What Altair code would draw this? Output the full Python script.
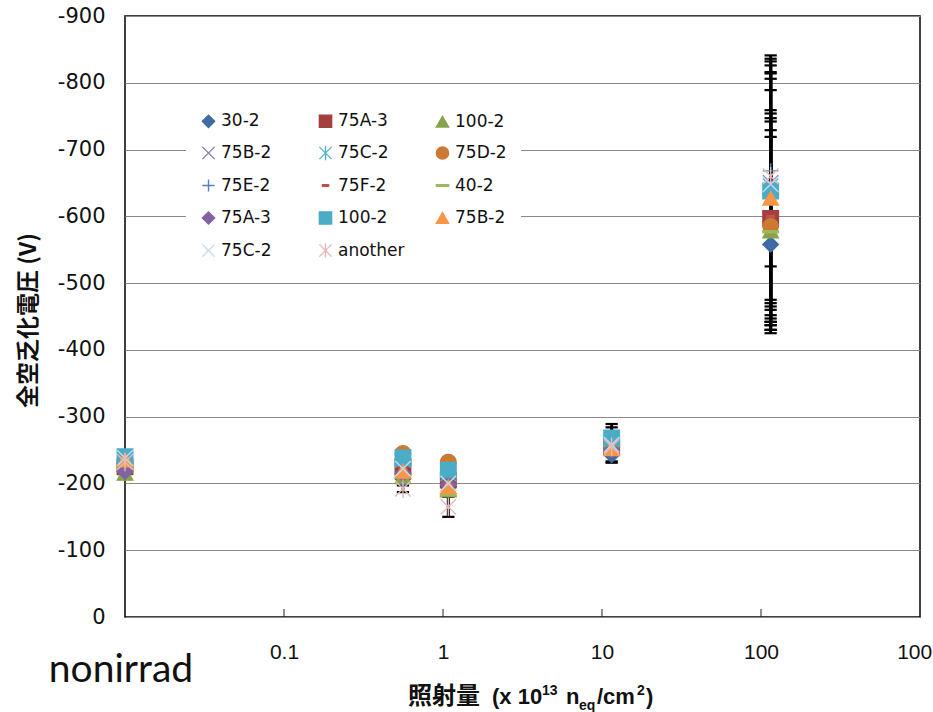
import altair as alt
import pandas as pd

# ---------------- data ----------------
series_keys = [f"s{i:02d}" for i in range(1, 15)]
series_names = ["30-2", "75A-3", "100-2", "75B-2", "75C-2", "75D-2", "75E-2",
                "75F-2", "40-2", "75A-3", "100-2", "75B-2", "75C-2", "another"]

dose_x = [0.01, 0.56, 1.08, 11.5, 115]

v_nonirrad = [-225, -225, -215, -230, -235, -230, -235, -228, -222, -218, -240, -235, -238, -232]
v_dose056 = [-207, -225, -210, -240, -235, -245, -230, -222, -212, -215, -238, -218, -222, -192]
v_dose108 = [-195, -205, -190, -200, -215, -232, -210, -200, -183, -198, -220, -195, -200, -165]
v_dose115 = [-243, -255, -265, -258, -262, -260, -262, -255, -258, -250, -268, -252, -258, -255]
v_dose1150 = [-558, -597, -578, -650, -645, -585, -668, -600, -577, -633, -638, -627, -648, -660]

err_x = [115] * 14 + [11.5, 11.5, 1.08, 0.56]
err_lo = [-525, -475, -470, -465, -460, -452, -447, -442, -437, -430, -425, -430, -437, -442,
          -231, -233, -150, -187]
err_hi = [-729, -742, -747, -836, -832, -754, -841, -759, -719, -789, -826, -816, -814, -806,
          -289, -284, -180, -197]

y_ticks = [0, -100, -200, -300, -400, -500, -600, -700, -800, -900]
x_ticks = [0.1, 1, 10, 100, 1000]
inner_ticks = [0.1, 1, 10, 100]

# ---------------- styles ----------------
X_PATH = "M-1,-1L1,1M-1,1L1,-1"
AST_PATH = "M-1,-1L1,1M-1,1L1,-1M0,-1.2L0,1.2"
PLUS_PATH = "M-1,0L1,0M0,-1L0,1"
SDASH = "M-0.5,-0.13L0.5,-0.13L0.5,0.13L-0.5,0.13Z"
LDASH = "M-1,-0.13L1,-0.13L1,0.13L-1,0.13Z"

shapes = ["diamond", "square", "triangle-up", X_PATH, AST_PATH, "circle", PLUS_PATH,
          SDASH, LDASH, "diamond", "square", "triangle-up", X_PATH, AST_PATH]
colors = ["#3F6BA3", "#A33F3C", "#86A44A", "#8A78B0", "#58B4C9", "#CC7A33", "#4F81BD",
          "#C0504D", "#9BBB59", "#8064A2", "#4BACC6", "#F79646", "#C6D9F1", "#E6B9B8"]
filled = [True, True, True, False, False, True, False, True, True, True, True, True, False, False]
fills = [c if f else "transparent" for c, f in zip(colors, filled)]

# legend is filled column by column: reorder so that it reads row by row (3 columns)
ncol, nrow = 3, 5
legend_order = [r * ncol + c for c in range(ncol) for r in range(nrow) if r * ncol + c < len(series_keys)]
dom = [series_keys[i] for i in legend_order]
dom_shapes = [shapes[i] for i in legend_order]
dom_colors = [colors[i] for i in legend_order]
dom_fills = [fills[i] for i in legend_order]

# ---------------- tables ----------------
rows = []
for xv, vals in zip(dose_x, [v_nonirrad, v_dose056, v_dose108, v_dose115, v_dose1150]):
    for k, v in zip(series_keys, vals):
        rows.append({"dose": xv, "vfd": v, "series": k})
pts = pd.DataFrame(rows)
errs = pd.DataFrame({"dose": err_x, "lo": err_lo, "hi": err_hi})

W, H = 795, 601

xscale = alt.Scale(type="log", domain=[0.01, 1000], nice=False)
yscale = alt.Scale(domain=[0, -900], nice=False, zero=False)

names_js = "[" + ",".join(f"'{n}'" for n in series_names) + "]"
keys_js = "[" + ",".join(f"'{k}'" for k in series_keys) + "]"
legend_expr = f"{names_js}[indexof({keys_js}, datum.label)]"

legend = alt.Legend(
    title=None, orient="none", legendX=61, legendY=82, columns=3, gridAlign="all",
    columnPadding=28, rowPadding=11.5, padding=14, fillColor="white",
    labelFont="DejaVu Sans", labelFontSize=17, labelColor="#111", labelOffset=4,
    symbolSize=150, symbolStrokeWidth=1.4, labelExpr=legend_expr, labelLimit=200,
)

x_enc = alt.X("dose:Q", scale=xscale, axis=alt.Axis(
    values=x_ticks, grid=False, ticks=False, domain=False, title=None,
    labelExpr="format(datum.value, '~g')", labelFont="Liberation Sans",
    labelFontSize=21, labelColor="#111", labelPadding=24, labelFlush=False))
y_enc = alt.Y("vfd:Q", scale=yscale, axis=alt.Axis(
    values=y_ticks, grid=True, gridColor="#8a8a8a", gridWidth=1, ticks=False, domain=False,
    labelExpr="datum.value == 0 ? '0' : '-' + format(abs(datum.value), 'd')",
    labelFont="DejaVu Sans", labelFontSize=21, labelColor="#111", labelPadding=20,
    title="全空乏化電圧 (V)", titleFont="Noto Sans CJK JP", titleFontSize=23,
    titleFontWeight="bold", titleAngle=270, titleX=-97, titleY=304,
    titleAlign="center", titleBaseline="middle", titleColor="#111"))

base_err = alt.Chart(errs)
err_rule = base_err.mark_rule(color="black", strokeWidth=3).encode(
    x=alt.X("dose:Q", scale=xscale), y=alt.Y("lo:Q", scale=yscale), y2="hi:Q")
cap_lo = base_err.mark_point(shape="M-1,0L1,0", stroke="black", strokeWidth=2.2,
                             size=150, opacity=1, filled=False).encode(
    x=alt.X("dose:Q", scale=xscale), y=alt.Y("lo:Q", scale=yscale))
cap_hi = base_err.mark_point(shape="M-1,0L1,0", stroke="black", strokeWidth=2.2,
                             size=150, opacity=1, filled=False).encode(
    x=alt.X("dose:Q", scale=xscale), y=alt.Y("hi:Q", scale=yscale))

points = alt.Chart(pts).mark_point(opacity=1, strokeWidth=1.4, size=240).encode(
    x=x_enc, y=y_enc,
    shape=alt.Shape("series:N", scale=alt.Scale(domain=dom, range=dom_shapes), legend=legend),
    stroke=alt.Stroke("series:N", scale=alt.Scale(domain=dom, range=dom_colors), legend=legend),
    fill=alt.Fill("series:N", scale=alt.Scale(domain=dom, range=dom_fills), legend=legend),
    order=alt.Order("series:N"),
)

ticks = alt.Chart(pd.DataFrame({"t": inner_ticks})).mark_rule(color="#222", strokeWidth=1).encode(
    x=alt.X("t:Q", scale=xscale), y=alt.value(H), y2=alt.value(H - 8))

nonirrad = alt.Chart(pd.DataFrame({"t": ["nonirrad"], "x": [dose_x[0]]})).mark_text(
    font="Lato", fontSize=39, align="center", baseline="alphabetic", color="#111", dx=-4
).encode(x=alt.X("x:Q", scale=xscale), y=alt.value(666), text="t:N")

# x-axis title pieces (text, left x, baseline y, size, font)
title_parts = [
    ("照射量", 283, 688, 24, "Noto Sans CJK JP"),
    ("(x 10", 367, 688, 22, "Liberation Sans"),
    ("13", 417, 679, 14, "Liberation Sans"),
    ("n", 441, 688, 22, "Liberation Sans"),
    ("eq", 454, 694, 14, "Liberation Sans"),
    ("/cm", 472, 688, 22, "Liberation Sans"),
    ("2", 512, 679, 14, "Liberation Sans"),
    (")", 521, 688, 22, "Liberation Sans"),
]
title_layers = []
for txt, px, py, fs, fnt in title_parts:
    title_layers.append(
        alt.Chart(pd.DataFrame({"t": [txt]})).mark_text(
            font=fnt, fontSize=fs, fontWeight="bold", align="left", baseline="alphabetic",
            color="#111").encode(x=alt.value(px), y=alt.value(py), text="t:N"))

chart = alt.layer(err_rule, cap_lo, cap_hi, points, ticks, nonirrad, *title_layers).properties(
    width=W, height=H,
    autosize=alt.AutoSizeParams(type="none"),
    padding={"left": 125, "top": 16, "right": 13, "bottom": 95},
    background="white",
).configure_view(stroke="black", strokeWidth=1.5).resolve_scale(x="shared", y="shared")

chart.save("out.html", embed_options={"renderer": "svg", "actions": False})
